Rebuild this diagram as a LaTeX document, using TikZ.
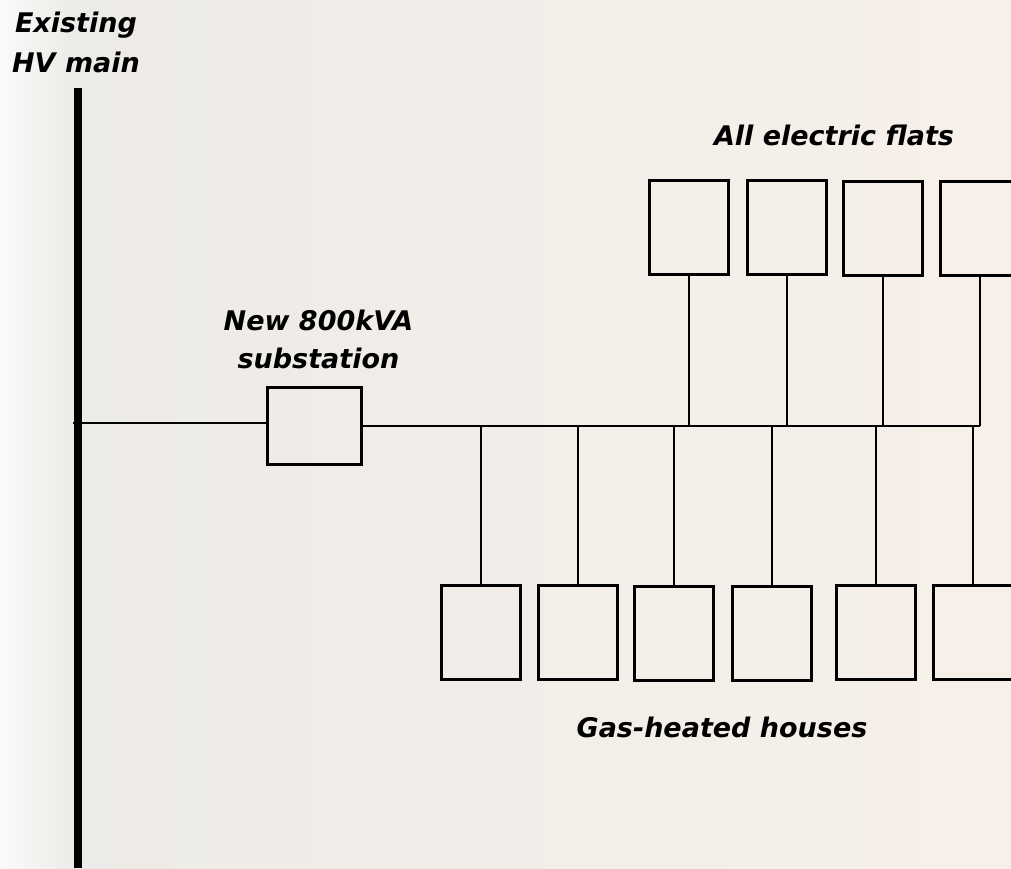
\documentclass[tikz,border=0pt]{standalone}
\usepackage{fontspec}
\setmainfont{DejaVu Sans}
\definecolor{bgleft}{RGB}{250,250,249}
\definecolor{bgA}{RGB}{237,235,231}
\definecolor{bgB}{RGB}{247,240,233}
\begin{document}
\begin{tikzpicture}[x=1pt,y=-1pt,
  lbl/.style={font=\fontsize{27}{40}\selectfont\bfseries\itshape, align=center, inner sep=0pt, text=black},
  unitbox/.style={draw=black, line width=3pt, minimum width=79pt, minimum height=94pt, inner sep=0pt, outer sep=0pt},
  wire/.style={draw=black, line width=2pt},
  busline/.style={draw=black, line width=2.5pt},
  hvline/.style={draw=black, line width=8pt}]
\useasboundingbox (0,0) rectangle (1011,868);
% background
\shade[left color=bgA, right color=bgB] (75,0) rectangle (1011,868);
\shade[left color=bgleft, right color=bgA] (0,0) rectangle (75,868);

% labels
\node[lbl] (hvlabel) at (76,42) {Existing\\HV main};
\node[lbl, font=\fontsize{27}{38}\selectfont\bfseries\itshape] (sublabel) at (318.5,339) {New 800kVA\\substation};
\node[lbl, anchor=base] (flatslabel) at (834,145) {All electric flats};
\node[lbl, anchor=base] (houseslabel) at (722,737) {Gas-heated houses};

% HV main
\coordinate (hvtop) at (78,88);
\coordinate (hvbot) at (78,868);
\draw[hvline] (hvtop) -- (hvbot);
\coordinate (hvtap) at (73,423);

% substation
\node[unitbox, minimum width=94pt, minimum height=77pt] (sub) at (314.5,426) {};
\draw[wire] (hvtap) -- (hvtap -| sub.west);

% bus
\coordinate (busend) at (979.5,426);
\draw[busline] (sub.east |- busend) -- (busend);

% flats
\node[unitbox] (f1) at (688.5,227) {};
\node[unitbox] (f2) at (786.5,227) {};
\node[unitbox] (f3) at (882.5,228) {};
\node[unitbox] (f4) at (979.5,228) {};
\foreach \f in {f1,f2,f3,f4}
  \draw[wire] (\f.south) -- (\f.south |- busend);

% houses
\node[unitbox] (h1) at (481,632) {};
\node[unitbox] (h2) at (578,632) {};
\node[unitbox] (h3) at (674,633.5) {};
\node[unitbox] (h4) at (771.5,633.5) {};
\node[unitbox] (h5) at (875.5,632) {};
\node[unitbox] (h6) at (972.5,632) {};
\foreach \h in {h1,h2,h3,h4,h5,h6}
  \draw[wire] (\h.north) -- (\h.north |- busend);
\end{tikzpicture}
\end{document}
